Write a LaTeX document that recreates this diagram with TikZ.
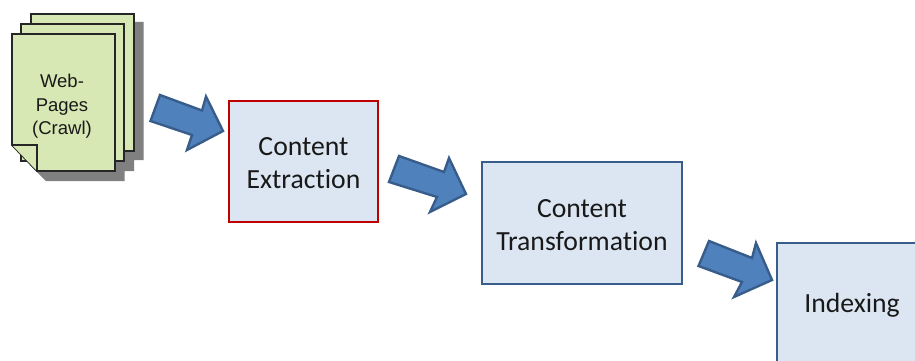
\documentclass[tikz,border=0pt]{standalone}
\usepackage{fontspec}
\setmainfont[Ligatures=NoCommon]{Carlito}
\newfontfamily\arialfont{Liberation Sans}
\definecolor{boxfill}{HTML}{DCE6F2}
\definecolor{boxline}{HTML}{385D8A}
\definecolor{redline}{HTML}{C00000}
\definecolor{arrowfill}{HTML}{4F81BD}
\definecolor{pagefill}{HTML}{D8E8B4}
\definecolor{shadowgray}{HTML}{808080}
\tikzset{
  procbox/.style={draw=boxline,fill=boxfill,line width=2.8pt,line join=miter,inner sep=0pt,align=center,font=\fontsize{27.7}{33}\selectfont,text=black!90},
  redbox/.style={procbox,draw=redline},
  blockarrow/.style={draw=boxline,fill=arrowfill,line width=2.4pt,line join=miter},
  webpage/.style={draw=black!85,fill=pagefill,line width=1.8pt,line join=miter},
  pageshadow/.style={fill=shadowgray,draw=none},
  pagetext/.style={font=\arialfont\fontsize{18.5}{23.5}\selectfont,align=center,text=black!90,inner sep=0pt}
}
\begin{document}
\begin{tikzpicture}[x=1pt,y=-1pt]
\useasboundingbox (0,0) rectangle (915,361);
\clip (0,0) rectangle (915,361);
% shadow
\fill[pageshadow] (40,22) -- (143.5,22) -- (143.5,160) -- (134,160) -- (134,171) -- (124.5,171) -- (124.5,181) -- (46,181) -- (30,165) -- cycle;
% back pages
\draw[webpage] (31,14) rectangle (134,151);
\draw[webpage] (21,24) rectangle (124,161);
% front page with fold
\draw[webpage] (12,34) -- (115,34) -- (115,171) -- (37,171) -- (12,145) -- cycle;
\draw[webpage] (12,145) -- (37,145) -- (37,171);
\node[pagetext] (web) at (62,106.5) {Web-\\Pages\\(Crawl)};
% boxes
\node[redbox,minimum width=149pt,minimum height=121pt] (extract) at (303.5,161.5) {\rule{0pt}{21.5pt}Content\\Extraction};
\node[procbox,minimum width=200pt,minimum height=122pt] (transform) at (582,223) {\rule{0pt}{21.5pt}Content\\Transformation};
\draw[procbox] (777,243) rectangle (935,381);
\node[font=\fontsize{27.7}{33}\selectfont,text=black!90,inner sep=0pt] (index) at (852,305) {Indexing};
% block arrows
\draw[blockarrow] (150.5,121) -- (160,95) -- (202,110.5) -- (206,96.5) -- (223,131) -- (187,150) -- (192,135) -- cycle;
\draw[blockarrow] (389,182) -- (399,156) -- (444,172) -- (449,158) -- (466,194) -- (430,212) -- (437,197) -- cycle;
\draw[blockarrow] (698.5,266) -- (709,241) -- (752,258) -- (756,243) -- (772,280) -- (734,297) -- (742,282) -- cycle;
\end{tikzpicture}
\end{document}
